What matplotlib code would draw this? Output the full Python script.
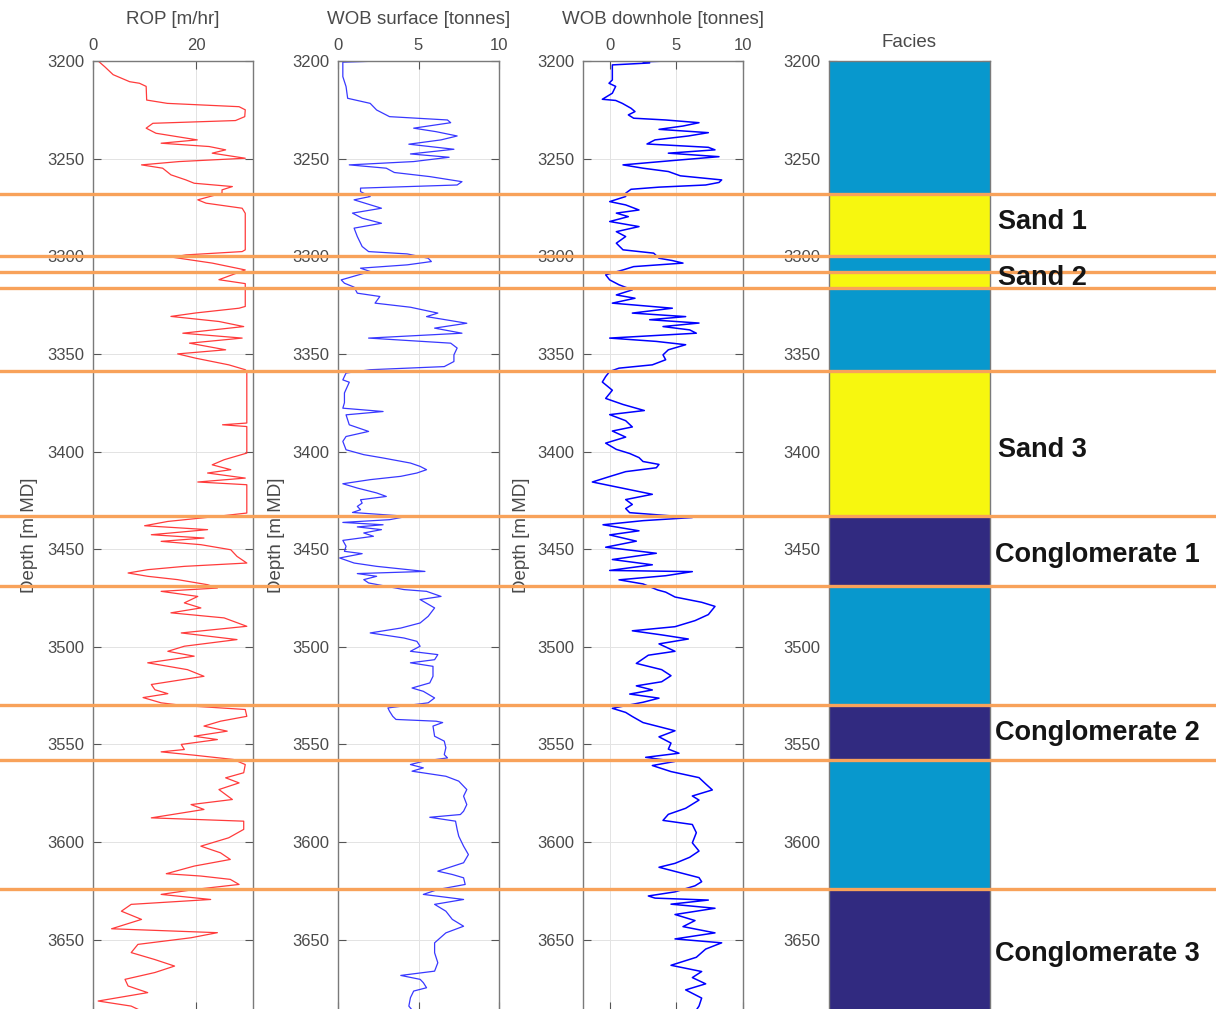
import matplotlib
matplotlib.use("Agg")
import matplotlib.pyplot as plt
import numpy as np
from matplotlib.colors import ListedColormap

plt.rcParams['font.family'] = ['Liberation Sans', 'DejaVu Sans']

# ROP log [m/hr] vs measured depth [m]
rop_depth = [3200, 3203, 3207, 3210.6, 3211.4, 3213, 3220, 3221.7, 3223.4, 3225, 3228.5, 3230.5,
             3231.9, 3234.4, 3237, 3240.4, 3242.1, 3243.8, 3245.5, 3247.2, 3249.8, 3251.5, 3253.2,
             3254.9, 3258.3, 3260.9, 3262.6, 3264.3, 3266, 3267.7, 3271.1, 3272.8, 3275.4, 3278,
             3296.7, 3297.6, 3299.3, 3300.5, 3303.5, 3307, 3312, 3314, 3325.7, 3326.6, 3329, 3330.8,
             3333.4, 3336, 3339.4, 3341.9, 3344.5, 3347.9, 3350, 3352.2, 3355.6, 3358.1, 3359,
             3385.4, 3386.3, 3387.2, 3400.8, 3404.2, 3406.8, 3409.3, 3411, 3413.6, 3415.6, 3417,
             3431.5, 3433.2, 3435.8, 3438, 3440, 3442.6, 3444.3, 3446, 3447.7, 3450.3, 3453.7,
             3457.1, 3458.8, 3460.5, 3462.2, 3463.9, 3465.6, 3468.2, 3469.9, 3471.6, 3474.2, 3477.5,
             3480.1, 3482.6, 3485.2, 3489.5, 3492.9, 3496.3, 3499.7, 3502.3, 3504.8, 3508.2, 3511.7,
             3515.1, 3519.3, 3522, 3524, 3526, 3528.7, 3530.1, 3532.1, 3535.6, 3538.1, 3540.6,
             3543.2, 3545.8, 3547.5, 3550, 3552.6, 3553.8, 3555.5, 3557.7, 3560.3, 3564.5, 3567.1,
             3569.7, 3573.1, 3578.2, 3580.8, 3583.3, 3587.6, 3589.3, 3593.5, 3597.8, 3602.1, 3605.5,
             3608.9, 3612.3, 3616.2, 3617.4, 3619.1, 3621.7, 3624.3, 3626.8, 3629.4, 3631.9, 3635.4,
             3639.6, 3644.4, 3646.4, 3649, 3652.4, 3656.6, 3660.1, 3663.5, 3666.8, 3670.3, 3673.7,
             3677.1, 3681.4, 3684, 3686]
rop_val = [1.0, 2.3, 3.9, 7.1, 9.0, 10.3, 10.4, 14.4, 28.3, 29.5, 29.4, 27.6,
           11.6, 10.3, 12.2, 20.2, 13.2, 22.5, 25.7, 23.1, 29.5, 16.7, 9.4,
           13.5, 15.1, 18.0, 19.6, 27.0, 25.0, 25.0, 20.3, 21.9, 28.9, 29.5,
           29.5, 28.9, 18.0, 15.4, 23.1, 29.5, 24.4, 29.5, 29.5, 28.3, 20.0, 15.1,
           24.4, 29.2, 17.4, 28.9, 18.7, 25.7, 16.4, 19.9, 26.3, 29.5, 29.8,
           29.8, 25.1, 29.8, 29.8, 25.4, 23.1, 26.7, 22.2, 29.5, 20.3, 29.8,
           29.8, 24.1, 14.5, 10.0, 22.2, 11.3, 21.5, 13.2, 20.9, 26.7, 27.9,
           29.8, 17.7, 10.6, 6.8, 10.6, 16.4, 22.2, 24.1, 13.2, 20.3, 17.7,
           20.9, 15.1, 25.4, 29.8, 17.1, 27.9, 17.7, 14.5, 19.6, 10.6, 18.3,
           21.5, 11.3, 12.0, 14.5, 9.7, 13.2, 17.6, 29.5, 29.8, 24.7, 21.5,
           26.0, 19.6, 24.1, 17.1, 17.7, 13.2, 19.6, 27.2, 29.5, 29.2, 25.7,
           28.3, 24.4, 27.0, 19.0, 21.5, 11.3, 29.2, 29.2, 26.3, 20.9, 24.7,
           26.6, 19.6, 14.2, 20.9, 26.6, 28.3, 19.6, 13.2, 22.8, 7.4, 5.5,
           9.4, 3.6, 24.1, 19.0, 8.7, 7.4, 11.9, 15.8, 12.0, 6.2, 6.8,
           10.6, 1.0, 7.4, 9.0]

# surface weight on bit [tonnes]
wobs_depth = [3200, 3200.6, 3208, 3213.1, 3219.1, 3221.7, 3225.1, 3228.5, 3230.2, 3231.6, 3234.4,
              3236.2, 3238.4, 3240.4, 3242.6, 3245.2, 3247.6, 3249.3, 3251.5, 3253.2, 3254.9,
              3257.1, 3259.2, 3261.8, 3263.5, 3265.1, 3266.9, 3269.4, 3271.1, 3275.4, 3277.9,
              3280.5, 3283.1, 3285.6, 3289.9, 3295, 3297.6, 3298.8, 3301, 3302.7, 3304.4, 3306.1,
              3307.8, 3312.1, 3313.8, 3315.8, 3318.9, 3320.6, 3324, 3326.1, 3329.1, 3330.9, 3334.3,
              3336.8, 3339.4, 3341.9, 3344.5, 3347, 3350.5, 3353.9, 3356.5, 3358.1, 3359.8, 3363.3,
              3364.5, 3370, 3375, 3377.8, 3379.5, 3381.2, 3386.3, 3389.7, 3392.3, 3394.8, 3399.1,
              3401.6, 3403.3, 3405.9, 3407.6, 3409.3, 3411, 3412.7, 3414.4, 3416.5, 3418.7, 3421.2,
              3423, 3424.7, 3426.4, 3428.1, 3429.8, 3431.2, 3433.2, 3434.9, 3436.3, 3437.5, 3438.6,
              3440, 3441.7, 3443.4, 3445.5, 3448.5, 3451.1, 3452.3, 3454.5, 3457.1, 3458.8, 3461.4,
              3462.5, 3463.9, 3465.6, 3467.3, 3470.7, 3471.6, 3474.2, 3475.8, 3480.1, 3484.4,
              3487.8, 3490.4, 3492.9, 3495.5, 3497.2, 3499.7, 3502.3, 3504, 3506.6, 3508.2, 3510,
              3515.1, 3518.5, 3521.1, 3522.8, 3526.2, 3528.7, 3531.3, 3533, 3535.6, 3537.2, 3538.1,
              3538.8, 3540.6, 3545.8, 3548.3, 3551.7, 3555.2, 3556.9, 3558.6, 3560.3, 3562, 3563.7,
              3566.3, 3568.8, 3573.1, 3576.5, 3580.8, 3584.2, 3585.9, 3587.3, 3589.3, 3593.5, 3597,
              3602.1, 3606.4, 3610.6, 3614.9, 3616.6, 3618.3, 3621.7, 3624.3, 3626.8, 3629.4,
              3631.9, 3635.4, 3639.6, 3643.1, 3646.5, 3651.6, 3656.7, 3661.8, 3666.1, 3668.3,
              3670.3, 3672, 3674.6, 3676.3, 3679.7, 3684, 3686]
wobs_val = [2.6, 0.3, 0.3, 0.5, 0.6, 2.0, 2.4, 3.2, 6.8, 7.0, 4.7,
            6.1, 7.4, 6.4, 4.4, 7.2, 4.5, 6.9, 4.7, 0.7, 3.0,
            3.5, 5.7, 7.7, 7.4, 1.4, 1.4, 2.0, 1.0, 2.7, 0.9,
            1.5, 2.7, 1.0, 1.2, 1.5, 1.9, 4.3, 5.6, 5.8, 4.3, 1.4,
            2.0, 0.2, 0.4, 1.0, 1.2, 2.6, 2.3, 4.5, 6.2, 5.5, 8.0,
            6.0, 7.7, 1.9, 7.0, 7.4, 7.2, 7.2, 6.6, 2.0, 0.5, 0.3,
            0.7, 0.4, 0.4, 0.3, 2.8, 0.5, 0.7, 1.9, 0.5, 0.3, 0.5,
            1.6, 2.8, 4.5, 5.1, 5.5, 4.9, 3.9, 2.0, 0.3, 1.2, 2.4,
            3.0, 1.4, 1.5, 1.2, 1.4, 0.9, 4.3, 3.2, 0.3, 2.8, 1.2,
            2.7, 1.6, 2.2, 0.3, 0.5, 0.4, 1.5, 0.1, 1.0, 2.4, 5.4,
            1.2, 2.4, 1.6, 1.9, 4.1, 5.5, 6.4, 5.1, 6.0, 5.6,
            5.1, 3.9, 2.0, 4.1, 4.9, 5.1, 4.5, 6.2, 6.0, 4.5, 5.9,
            5.9, 5.7, 4.6, 5.3, 6.0, 5.6, 3.1, 3.2, 3.4, 3.6, 6.1,
            6.5, 5.9, 6.0, 6.6, 6.7, 6.6, 6.8, 5.3, 4.5, 5.3, 4.6,
            6.7, 7.5, 8.0, 7.8, 8.0, 7.8, 7.6, 5.7, 7.3, 7.4, 7.5,
            7.8, 8.1, 7.8, 6.2, 7.1, 7.8, 7.9, 6.2, 5.3, 7.8,
            6.0, 6.7, 7.1, 7.8, 6.7, 6.0, 6.0, 6.2, 6.0, 3.9,
            5.1, 5.3, 5.5, 4.7, 4.5, 4.4, 4.6]

# downhole weight on bit [tonnes]
wobd_depth = [3200, 3200.4, 3201, 3202, 3209.7, 3211.4, 3213, 3216.5, 3219.6, 3220.2, 3221.7,
              3224.2, 3225.9, 3227.6, 3229.3, 3230.2, 3231.6, 3233.3, 3235, 3236.7, 3238.4, 3240.4,
              3242.5, 3244.2, 3245.5, 3247.2, 3249, 3251, 3253.2, 3254.9, 3256.6, 3258.8, 3260.9,
              3262.2, 3263.5, 3264.6, 3265.7, 3267.7, 3269.4, 3272, 3273.7, 3276.3, 3277.9, 3279.7,
              3282.2, 3284.8, 3287.4, 3289.9, 3293.3, 3296.7, 3298.4, 3301, 3302.2, 3303.5, 3305.3,
              3307, 3309.5, 3312.1, 3314.6, 3317.2, 3319.8, 3321.5, 3324, 3326.6, 3329.1, 3330.9,
              3332.5, 3334.2, 3336, 3337.7, 3339.4, 3341.9, 3343.6, 3345.3, 3347.9, 3350.5, 3353,
              3355.6, 3357.3, 3359, 3361.6, 3364.4, 3368.6, 3372.8, 3375.9, 3379, 3381.1, 3384.2,
              3387.4, 3389.5, 3392.6, 3395.7, 3398.9, 3401, 3403.1, 3405.1, 3406.6, 3408.3, 3410.3,
              3412.8, 3415.6, 3417.7, 3419.8, 3421.9, 3424.6, 3427.1, 3429.2, 3431.3, 3433.8,
              3435.4, 3437.5, 3440.6, 3442.7, 3445.9, 3449, 3452.1, 3455.3, 3458, 3460.9, 3461.5,
              3463.6, 3465.7, 3467.8, 3470.9, 3472, 3474.5, 3477.2, 3479.3, 3483.5, 3486.6, 3489.7,
              3491.8, 3493.9, 3496, 3498.5, 3502.3, 3504.3, 3508.5, 3511.7, 3514.8, 3517.9, 3520,
              3522.1, 3524.2, 3526.3, 3528.4, 3531.5, 3533.6, 3535.7, 3538.8, 3540.9, 3543, 3546.1,
              3549.3, 3552.4, 3554.5, 3556.6, 3558.7, 3560.8, 3563.9, 3567, 3570.2, 3573.3, 3576.4,
              3578.5, 3582.7, 3585.8, 3588.9, 3591, 3595.2, 3600.4, 3604.6, 3607.8, 3610.9, 3612.9,
              3616.1, 3618.2, 3620.3, 3622.4, 3625.5, 3627.6, 3628.7, 3629.7, 3631.8, 3633.9, 3637.1,
              3640.2, 3643.3, 3646.5, 3649.6, 3651.6, 3654.8, 3659, 3663.1, 3666.3, 3669.4, 3672.6,
              3675.7, 3679.9, 3684, 3686]
wobd_val = [4.4, 2.5, 3.0, 0.2, 0.2, -0.05, 0.45, 0.2, -0.55, 0.45, 0.95,
            1.6, 1.9, 1.4, 1.8, 4.2, 6.7, 5.5, 3.7, 7.4, 5.9, 3.4,
            2.8, 7.4, 7.9, 4.4, 8.2, 4.7, 1.0, 2.5, 4.4, 5.3, 8.4,
            8.2, 7.2, 3.7, 1.6, 1.2, 1.2, 0.0, 1.2, 2.2, 0.5, 1.4,
            0.0, 2.2, 0.5, 1.2, 0.5, 1.0, 3.3, 3.7, 4.7, 5.5, 1.8,
            1.0, -0.3, 0.0, 0.7, 1.7, 0.5, 1.9, 0.2, 4.7, 1.7, 5.7,
            3.0, 6.7, 4.0, 6.0, 6.5, 0.0, 3.5, 5.7, 4.4, 4.0, 4.2,
            3.2, 0.7, 0.0, -0.3, -0.55, 0.2, -0.3, 1.0, 2.6, 0.0, 1.2,
            1.7, 0.2, 1.2, -0.3, 0.5, 1.5, 2.2, 2.5, 3.7, 3.5, 1.2,
            0.0, -1.3, 0.2, 1.7, 3.2, 1.2, 1.7, 1.2, 1.5, 6.2,
            2.5, -0.5, 2.2, 0.0, 2.0, -0.3, 3.5, 0.2, 3.2, 0.0, 6.2,
            4.2, 0.7, 2.5, 3.6, 4.2, 4.9, 6.9, 7.9, 7.4, 6.4, 4.9,
            1.7, 3.9, 5.9, 3.7, 4.9, 2.9, 2.0, 3.9, 4.6, 3.9, 2.0,
            3.2, 1.5, 3.7, 2.5, 0.2, 1.2, 1.7, 2.5, 3.7, 4.9, 3.7,
            4.6, 4.4, 5.2, 2.7, 4.9, 3.2, 4.6, 6.7, 7.2, 7.7, 6.2,
            6.7, 5.7, 4.4, 4.0, 6.2, 6.5, 6.2, 6.7, 6.0, 4.9, 3.7,
            5.5, 6.7, 6.9, 6.4, 4.9, 2.9, 3.4, 7.4, 4.6, 7.9, 4.9,
            6.4, 5.5, 7.9, 4.9, 8.4, 7.2, 6.5, 4.6, 6.9, 6.2, 7.2,
            5.7, 6.9, 6.7, 6.5]

# facies intervals: top depths and codes (0 conglomerate, 1 shale, 2 sand)
facies_tops = [3200, 3268, 3300, 3308, 3316, 3359, 3433, 3469, 3530, 3558, 3624]
facies_code = [1, 2, 1, 2, 1, 2, 0, 1, 0, 1, 0]
facies_colors = ['#312A80', '#0898CD', '#F7F70F']

# boundaries marked across all tracks
boundaries = [3268, 3300, 3308, 3316, 3359, 3433, 3469, 3530, 3558, 3624]

# unit labels
unit_names = ['Sand 1', 'Sand 2', 'Sand 3', 'Conglomerate 1', 'Conglomerate 2', 'Conglomerate 3']
unit_depth = [3282.4, 3311.0, 3399.0, 3452.8, 3543.9, 3657.5]

depth_ticks = [3200, 3250, 3300, 3350, 3400, 3450, 3500, 3550, 3600, 3650]
dmin, dmax = 3200, 3686

W, H = 1216, 1009
fig = plt.figure(figsize=(W / 100, H / 100), dpi=100)

top_px, bot_px = 61, 1010
ax_b = 1 - bot_px / H
ax_h = (bot_px - top_px) / H

txt_col = '#4a4a4a'
spine_col = '#7a7a7a'


def track(left_px, right_px):
    ax = fig.add_axes([left_px / W, ax_b, (right_px - left_px) / W, ax_h])
    ax.set_ylim(dmax, dmin)
    ax.set_yticks(depth_ticks)
    ax.tick_params(axis='both', direction='in', length=6, width=0.8, color='#555555',
                   labelsize=12, labelcolor=txt_col, pad=6,
                   top=True, right=True, bottom=True, left=True,
                   labeltop=True, labelbottom=False)
    for s in ax.spines.values():
        s.set_color(spine_col)
        s.set_linewidth(1.0)
    ax.grid(True, color='#e3e3e3', linewidth=0.7)
    ax.set_axisbelow(True)
    return ax


def header(ax, text, y_px):
    ax.text(0.5, 1 + (top_px - y_px) / (bot_px - top_px), text, transform=ax.transAxes,
            ha='center', va='center', fontsize=13.5, color=txt_col)


# ROP track
ax1 = track(93, 253)
ax1.plot(rop_val, rop_depth, color='#ff3b3b', linewidth=0.9)
ax1.set_xlim(0, 31)
ax1.set_xticks([0, 20])
header(ax1, 'ROP [m/hr]', 19)

# surface WOB track
ax2 = track(338, 499)
ax2.plot(wobs_val, wobs_depth, color='#3838ff', linewidth=0.9)
ax2.set_xlim(0, 10)
ax2.set_xticks([0, 5, 10])
header(ax2, 'WOB surface [tonnes]', 19)

# downhole WOB track
ax3 = track(583, 743)
ax3.plot(wobd_val, wobd_depth, color='#0000ff', linewidth=1.1)
ax3.set_xlim(-2, 10)
ax3.set_xticks([0, 5, 10])
header(ax3, 'WOB downhole [tonnes]', 19)

for ax, xl in [(ax1, -0.344), (ax2, -0.329), (ax3, -0.331)]:
    ax.set_ylabel('Depth [m MD]', fontsize=13.5, color=txt_col)
    ax.yaxis.set_label_coords(xl, 0.5)

# facies column
ax4 = track(829, 990)
edges = np.array(facies_tops + [dmax], dtype=float)
codes = np.array(facies_code).reshape(-1, 1)
ax4.pcolormesh([0, 1], edges, codes, cmap=ListedColormap(facies_colors), vmin=-0.5, vmax=2.5)
ax4.set_xlim(0, 1)
ax4.set_xticks([])
ax4.grid(False)
header(ax4, 'Facies', 43)

# overlay: boundaries across the whole width and unit names
ov = fig.add_axes([0, ax_b, 1, ax_h], facecolor='none')
ov.set_xlim(0, 1)
ov.set_ylim(dmax, dmin)
ov.axis('off')
for b in boundaries:
    ov.axhline(b, color='#F8A25A', linewidth=2.4, zorder=1)
for name, d in zip(unit_names, unit_depth):
    x0 = 998 / W if name.startswith('Sand') else 995 / W
    ov.text(x0, d, name, ha='left', va='center', fontsize=19.5, fontweight='bold',
            color='#151515', zorder=2)

fig.savefig('out.png', dpi=100)
